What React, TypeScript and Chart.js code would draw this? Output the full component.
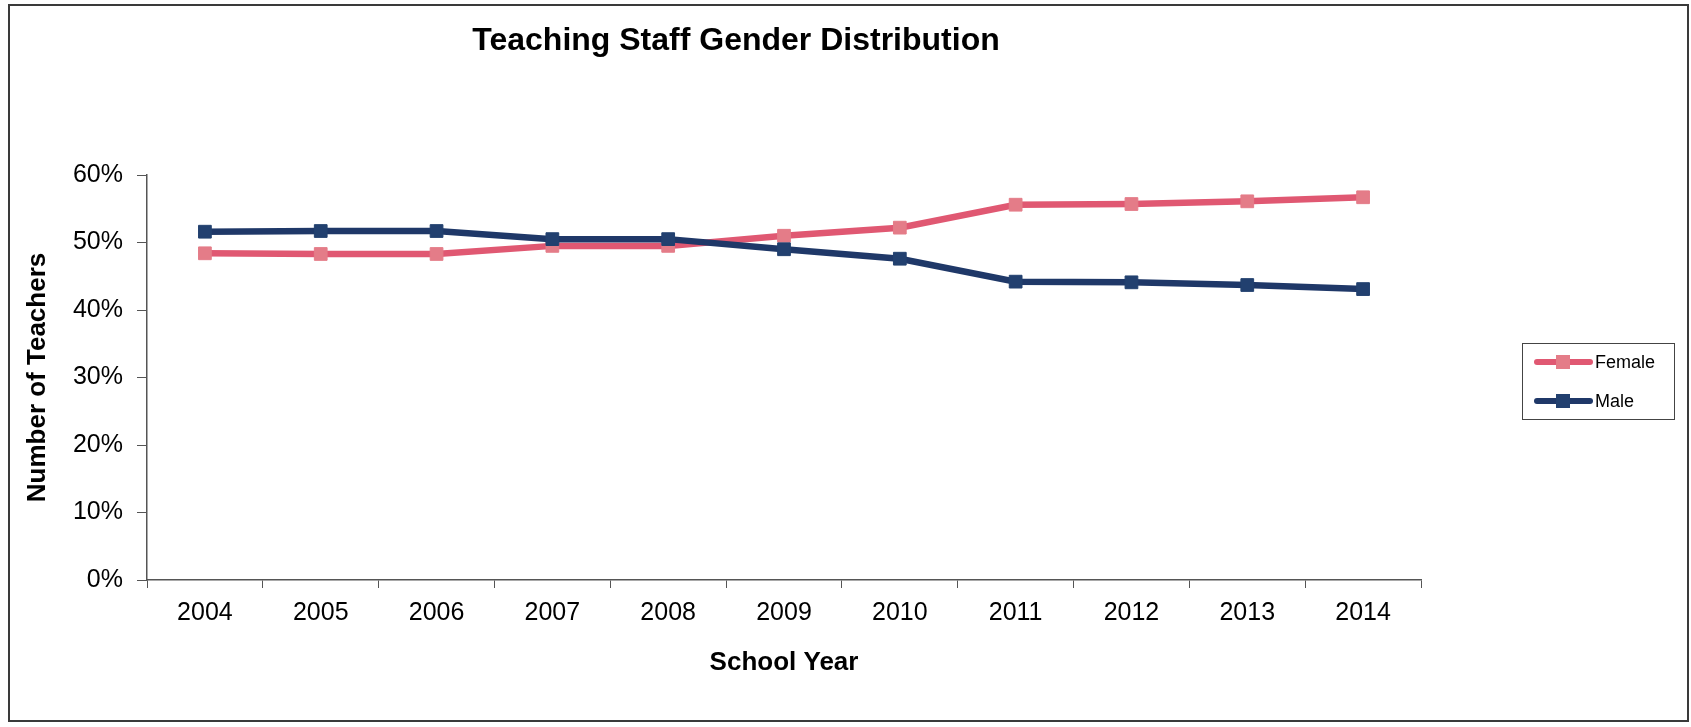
import React, { useEffect, useRef } from "react";
import { Chart, registerables } from "chart.js";

Chart.register(...registerables);

const years = ["2004", "2005", "2006", "2007", "2008", "2009", "2010", "2011", "2012", "2013", "2014"];
const female = [48.4, 48.3, 48.3, 49.5, 49.5, 51.0, 52.2, 55.6, 55.7, 56.1, 56.7];
const male = [51.6, 51.7, 51.7, 50.5, 50.5, 49.0, 47.6, 44.2, 44.1, 43.7, 43.1];
const seriesNames = ["Female", "Male"];
const titleText = "Teaching Staff Gender Distribution";
const xTitle = "School Year";
const yTitle = "Number of Teachers";

const FONT = "'Liberation Sans', Arial, sans-serif";
const PINK_LINE = "#E05872";
const PINK_PT = "#E47C88";
const NAVY_LINE = "#1F3868";
const NAVY_PT = "#22406F";

const decorPlugin = {
  id: "decor",
  beforeDraw(chart: any) {
    const ctx = chart.ctx;
    ctx.save();
    ctx.fillStyle = "#ffffff";
    ctx.fillRect(0, 0, chart.width, chart.height);
    ctx.restore();
  },
  afterDraw(chart: any) {
    const ctx = chart.ctx;
    ctx.save();
    // outer frame
    ctx.strokeStyle = "#3a3a3a";
    ctx.lineWidth = 2;
    ctx.strokeRect(9, 5, 1679, 716);
    // title
    ctx.fillStyle = "#000";
    ctx.font = `bold 32px ${FONT}`;
    ctx.textAlign = "center";
    ctx.textBaseline = "middle";
    ctx.fillText(titleText, 736, 41);
    // legend
    ctx.strokeStyle = "#444";
    ctx.lineWidth = 1;
    ctx.strokeRect(1522.5, 343.5, 152, 76);
    const items = [
      { name: seriesNames[0], y: 362, line: PINK_LINE, pt: PINK_PT },
      { name: seriesNames[1], y: 401, line: NAVY_LINE, pt: NAVY_PT },
    ];
    items.forEach((it) => {
      ctx.strokeStyle = it.line;
      ctx.lineWidth = 6;
      ctx.lineCap = "round";
      ctx.beginPath();
      ctx.moveTo(1537, it.y);
      ctx.lineTo(1590, it.y);
      ctx.stroke();
      ctx.fillStyle = it.pt;
      ctx.fillRect(1556, it.y - 7, 14, 14);
      ctx.fillStyle = "#000";
      ctx.font = `18px ${FONT}`;
      ctx.textAlign = "left";
      ctx.textBaseline = "middle";
      ctx.fillText(it.name, 1595, it.y + 1);
    });
    ctx.restore();
  },
};

export default function App() {
  const ref = useRef<HTMLCanvasElement>(null);
  useEffect(() => {
    const canvas = ref.current;
    if (!canvas) return;
    const chart = new Chart(canvas, {
      type: "line",
      data: {
        labels: years,
        datasets: [
          {
            label: seriesNames[0],
            data: female,
            borderColor: PINK_LINE,
            backgroundColor: PINK_PT,
            borderWidth: 6.5,
            pointStyle: "rect",
            pointRadius: 9,
            pointBorderWidth: 1,
            pointBorderColor: PINK_PT,
            pointBackgroundColor: PINK_PT,
            tension: 0,
            order: 1,
          },
          {
            label: seriesNames[1],
            data: male,
            borderColor: NAVY_LINE,
            backgroundColor: NAVY_PT,
            borderWidth: 6.5,
            pointStyle: "rect",
            pointRadius: 9,
            pointBorderWidth: 1,
            pointBorderColor: NAVY_PT,
            pointBackgroundColor: NAVY_PT,
            tension: 0,
            order: 0,
          },
        ],
      },
      options: {
        responsive: false,
        animation: false,
        devicePixelRatio: 1,
        layout: { padding: { left: 0, top: 175, right: 270, bottom: 0 } },
        plugins: {
          legend: { display: false },
          title: { display: false },
          tooltip: { enabled: false },
        },
        scales: {
          x: {
            type: "category",
            offset: true,
            afterFit: (s: any) => {
              s.height = 147;
            },
            grid: {
              offset: true,
              drawOnChartArea: false,
              drawTicks: true,
              tickLength: 8,
              color: "#555",
              lineWidth: 1,
            },
            border: { display: true, color: "#555", width: 1.5 },
            ticks: {
              color: "#000",
              font: { family: FONT, size: 25 },
              padding: 10,
              maxRotation: 0,
              autoSkip: false,
            },
            title: {
              display: true,
              text: xTitle,
              color: "#000",
              font: { family: FONT, size: 26, weight: "bold" },
              padding: { top: 0, bottom: 49 },
            },
          },
          y: {
            min: 0,
            max: 60,
            afterFit: (s: any) => {
              s.width = 147;
            },
            grid: {
              drawOnChartArea: false,
              drawTicks: true,
              tickLength: 10,
              color: "#555",
              lineWidth: 1,
            },
            border: { display: true, color: "#555", width: 1.5 },
            ticks: {
              stepSize: 10,
              color: "#000",
              font: { family: FONT, size: 25 },
              padding: 14,
              callback: (v: any) => `${v}%`,
            },
            title: {
              display: true,
              text: yTitle,
              color: "#000",
              font: { family: FONT, size: 26, weight: "bold" },
              padding: { top: 22, bottom: 0 },
            },
          },
        },
      },
      plugins: [decorPlugin],
    });
    return () => chart.destroy();
  }, []);
  return (
    <div style={{ position: "fixed", left: 0, top: 0, width: 1691, height: 727 }}>
      <canvas ref={ref} width={1691} height={727} style={{ display: "block" }} />
    </div>
  );
}
